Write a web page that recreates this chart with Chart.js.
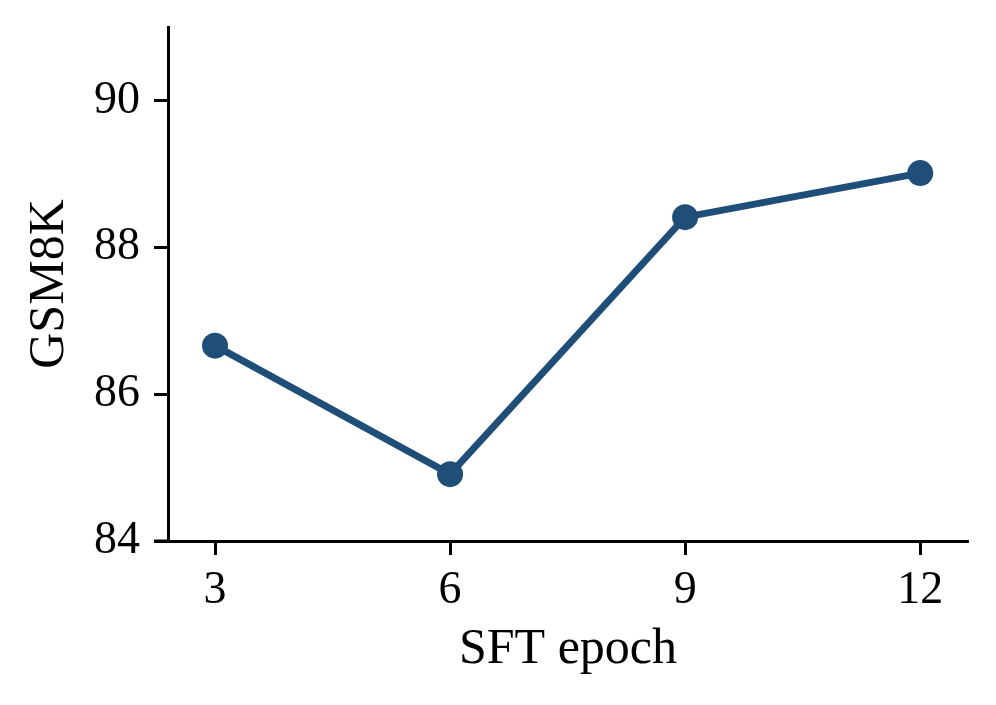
<!DOCTYPE html>
<html>
<head>
<meta charset="utf-8">
<script src="https://cdn.jsdelivr.net/npm/chart.js"></script>
<style>
  html, body { margin: 0; padding: 0; background: #fff; }
  #wrap { width: 996px; height: 705px; }
</style>
</head>
<body>
<div id="wrap"><canvas id="lineChart" width="996" height="705"></canvas></div>
<script>
// SFT epoch vs GSM8K
var epochs = [3, 6, 9, 12];
var gsm8k = [86.66, 84.91, 88.41, 89.01];
var xTicks = [3, 6, 9, 12];
var yTicks = [84, 86, 88, 90];

var lineColor = '#1f4e79';
var serif = "'Liberation Serif', 'Times New Roman', serif";

// bottom spine sticks out a bit to the left of the y axis
var spinePlugin = {
    id: 'spine',
    afterDraw: function (chart) {
        var ctx = chart.ctx;
        var area = chart.chartArea;
        ctx.save();
        ctx.strokeStyle = '#000';
        ctx.lineWidth = 3;
        ctx.beginPath();
        ctx.moveTo(area.left - 14, area.bottom);
        ctx.lineTo(area.left, area.bottom);
        ctx.stroke();
        ctx.restore();
    }
};

var lineData = {
    datasets: [{
        label: 'GSM8K',
        data: epochs.map(function (e, i) { return { x: e, y: gsm8k[i] }; }),
        borderColor: lineColor,
        backgroundColor: lineColor,
        borderWidth: 7,
        pointRadius: 13,
        pointBackgroundColor: lineColor,
        pointBorderWidth: 0,
        tension: 0
    }]
};

var lineConfig = {
    type: 'line',
    data: lineData,
    plugins: [spinePlugin],
    options: {
        responsive: false,
        animation: false,
        layout: { padding: { top: 27, right: 28, left: 0, bottom: 0 } },
        plugins: {
            legend: { display: false },
            tooltip: { enabled: false }
        },
        scales: {
            x: {
                type: 'linear',
                min: 2.4,
                max: 12.61,
                afterBuildTicks: function (axis) {
                    axis.ticks = xTicks.map(function (v) { return { value: v }; });
                },
                afterFit: function (axis) {
                    axis.height = 164;
                    axis.paddingLeft = 0;
                    axis.paddingRight = 0;
                },
                grid: {
                    drawOnChartArea: false,
                    tickLength: 14,
                    tickWidth: 3,
                    tickColor: '#000'
                },
                border: { color: '#000', width: 3 },
                ticks: {
                    color: '#000',
                    padding: 8,
                    font: { family: serif, size: 46 }
                },
                title: {
                    display: true,
                    text: 'SFT epoch',
                    color: '#000',
                    padding: { top: 4, bottom: 25 },
                    font: { family: serif, size: 50 }
                }
            },
            y: {
                min: 84,
                max: 91,
                afterBuildTicks: function (axis) {
                    axis.ticks = yTicks.map(function (v) { return { value: v }; });
                },
                afterFit: function (axis) {
                    axis.width = 168;
                    axis.paddingTop = 0;
                    axis.paddingBottom = 0;
                },
                grid: {
                    drawOnChartArea: false,
                    tickLength: 14,
                    tickWidth: 3,
                    tickColor: '#000'
                },
                border: { color: '#000', width: 3 },
                ticks: {
                    color: '#000',
                    padding: 14,
                    font: { family: serif, size: 46 }
                },
                title: {
                    display: true,
                    text: 'GSM8K',
                    color: '#000',
                    padding: { top: 20 },
                    font: { family: serif, size: 50 }
                }
            }
        }
    }
};

var lineChart = new Chart(
    document.getElementById('lineChart'),
    lineConfig
);
</script>
</body>
</html>
